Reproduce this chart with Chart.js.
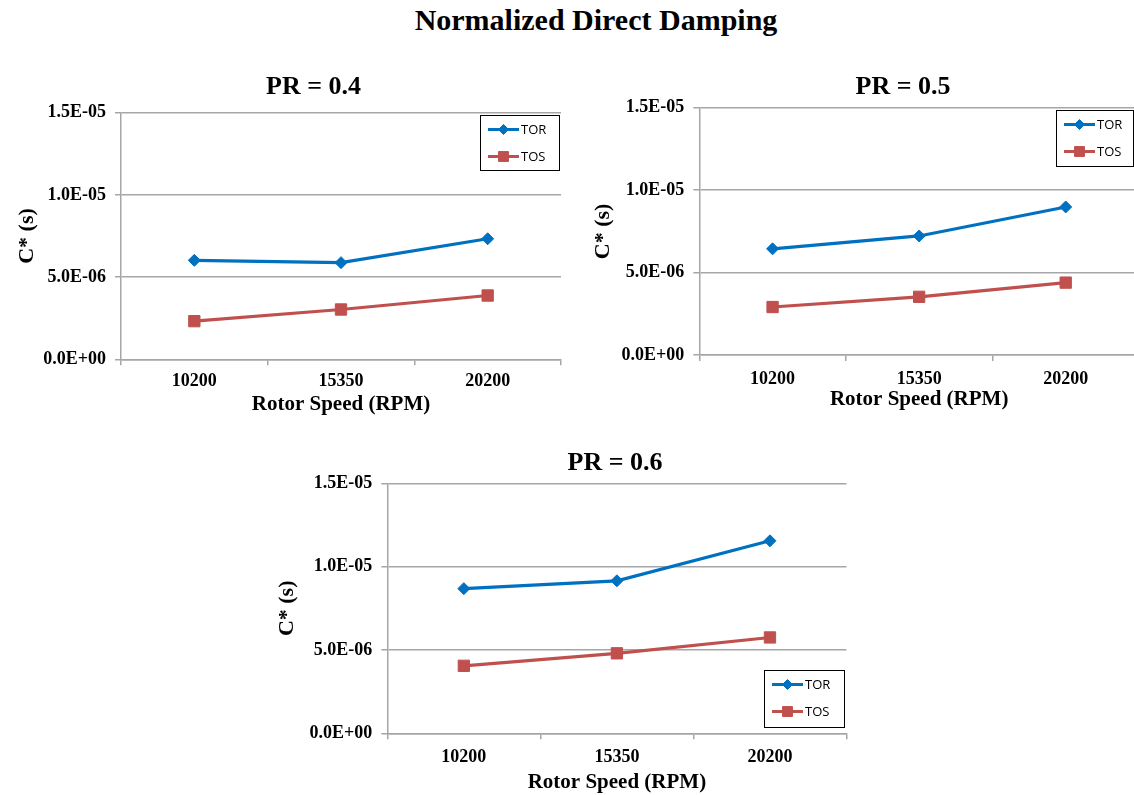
<!DOCTYPE html>
<html>
<head>
<meta charset="utf-8">
<script src="https://cdn.jsdelivr.net/npm/chart.js@4.4.1/dist/chart.umd.min.js"></script>
<style>
  html, body { margin: 0; padding: 0; background: #ffffff; overflow: hidden; width: 1134px; height: 795px; }
  #mainTitle { position: absolute; left: 0; top: 3px; width: 1192px; text-align: center;
    font-family: "Liberation Serif", "Times New Roman", serif; font-weight: bold; font-size: 30px; line-height: 34px; color: #000; }
  .wrap { position: absolute; }
</style>
</head>
<body>
<div id="mainTitle">Normalized Direct Damping</div>
<div class="wrap" id="w1"><canvas id="c1"></canvas></div>
<div class="wrap" id="w2"><canvas id="c2"></canvas></div>
<div class="wrap" id="w3"><canvas id="c3"></canvas></div>
<script>
// ---------------- DATA ----------------
const categories = ['10200', '15350', '20200'];
const yTickValues = [0, 5e-6, 1e-5, 1.5e-5];
const yTickLabels = ['0.0E+00', '5.0E-06', '1.0E-05', '1.5E-05'];
const seriesNames = ['TOR', 'TOS'];
const subTitles = ['PR = 0.4', 'PR = 0.5', 'PR = 0.6'];

const torPR04 = [6.02e-6, 5.88e-6, 7.33e-6];
const tosPR04 = [2.32e-6, 3.03e-6, 3.88e-6];
const torPR05 = [6.44e-6, 7.22e-6, 8.98e-6];
const tosPR05 = [2.91e-6, 3.53e-6, 4.39e-6];
const torPR06 = [8.68e-6, 9.15e-6, 11.55e-6];
const tosPR06 = [4.05e-6, 4.80e-6, 5.75e-6];

// ---------------- STYLE / LAYOUT ----------------
const BLUE = '#0070C0';
const RED = '#C0504D';
const GRID = '#a6a6a6';
const SERIF = '"Liberation Serif", "Times New Roman", serif';

const boxLegend = {
  id: 'boxLegend',
  afterLayout(chart, args, opts) {
    // place the chart title horizontally where the reference has it
    const t = chart.titleBlock;
    if (t && opts && typeof opts.titleCx === 'number') {
      const shift = opts.titleCx - (t.left + t.right) / 2;
      t.left += shift; t.right += shift;
    }
  },
  afterDraw(chart, args, opts) {
    if (!opts || !opts.box) return;
    const ctx = chart.ctx;
    const b = opts.box;
    ctx.save();
    ctx.fillStyle = '#ffffff';
    ctx.fillRect(b.x, b.y, b.w, b.h);
    ctx.strokeStyle = '#000000';
    ctx.lineWidth = 1;
    ctx.strokeRect(b.x + 0.5, b.y + 0.5, b.w, b.h);
    chart.data.datasets.forEach((ds, i) => {
      const cy = b.y + opts.rows[i];
      ctx.strokeStyle = ds.borderColor;
      ctx.lineWidth = 3;
      ctx.beginPath();
      ctx.moveTo(b.x + 8, cy);
      ctx.lineTo(b.x + 39, cy);
      ctx.stroke();
      ctx.fillStyle = ds.backgroundColor;
      ctx.strokeStyle = ds.borderColor;
      ctx.lineWidth = 1;
      Chart.helpers.drawPoint(ctx, { pointStyle: ds.pointStyle, radius: ds.pointRadius - 1, rotation: 0, borderWidth: 1 }, b.x + 23.5, cy);
      ctx.fillStyle = '#000000';
      ctx.font = '13px "Open Sans", "Liberation Sans", sans-serif';
      ctx.textBaseline = 'middle';
      ctx.textAlign = 'left';
      ctx.fillText(ds.label, b.x + 41, cy + 0.5);
    });
    ctx.restore();
  }
};

function makeChart(id, wrapId, tor, tos, title, g) {
  const wrap = document.getElementById(wrapId);
  wrap.style.left = g.canvas.left + 'px';
  wrap.style.top = g.canvas.top + 'px';
  wrap.style.width = g.canvas.width + 'px';
  wrap.style.height = g.canvas.height + 'px';

  const yAxisWidth = g.area.l - g.canvas.left;
  const xAxisHeight = g.canvas.top + g.canvas.height - g.area.b;
  const padRight = g.canvas.left + g.canvas.width - g.area.r;
  const titleLH = 26 * 1.2;
  const titlePadTop = g.titleY - g.canvas.top - titleLH / 2;
  const titlePadBottom = (g.area.t - g.canvas.top) - titleLH - titlePadTop;

  return new Chart(document.getElementById(id), {
    type: 'line',
    data: {
      labels: categories,
      datasets: [
        { label: seriesNames[0], data: tor, borderColor: BLUE, backgroundColor: BLUE, borderWidth: 3.2,
          pointStyle: 'rectRot', pointRadius: 6, pointHoverRadius: 6, pointBorderWidth: 1, tension: 0 },
        { label: seriesNames[1], data: tos, borderColor: RED, backgroundColor: RED, borderWidth: 3.2,
          pointStyle: 'rect', pointRadius: 8, pointHoverRadius: 8, pointBorderWidth: 1, tension: 0 }
      ]
    },
    options: {
      responsive: true,
      maintainAspectRatio: false,
      animation: false,
      devicePixelRatio: 1,
      layout: { padding: { left: 0, right: padRight, top: 0, bottom: 0 } },
      plugins: {
        legend: { display: false },
        tooltip: { enabled: false },
        title: {
          display: true, text: title, color: '#000',
          font: { family: SERIF, size: 26, weight: 'bold', lineHeight: 1.2 },
          padding: { top: titlePadTop, bottom: titlePadBottom }
        },
        boxLegend: { box: g.legend, rows: [14.5, 41.5], titleCx: g.titleX - g.canvas.left }
      },
      scales: {
        x: {
          type: 'category',
          offset: true,
          grid: { offset: true, drawOnChartArea: false, drawTicks: true, tickLength: 6, color: GRID, lineWidth: 1.5 },
          border: { display: true, color: GRID, width: 1.5 },
          ticks: { color: '#000', padding: g.xTickPad, font: { family: SERIF, size: 18, weight: 'bold', lineHeight: 1.2 }, maxRotation: 0 },
          title: { display: true, text: 'Rotor Speed (RPM)', color: '#000',
                   font: { family: SERIF, size: 21, weight: 'bold', lineHeight: 1.2 },
                   padding: { top: 0, bottom: g.xTitlePad } },
          afterFit: (s) => { s.height = xAxisHeight; }
        },
        y: {
          type: 'linear',
          min: 0, max: 1.5e-5,
          afterBuildTicks: (s) => { s.ticks = yTickValues.map(v => ({ value: v })); },
          grid: { color: GRID, lineWidth: 1.5, tickLength: 6, drawTicks: true },
          border: { display: true, color: GRID, width: 1.5 },
          ticks: { color: '#000', padding: 9,
                   font: { family: SERIF, size: 18, weight: 'bold' },
                   callback: (v) => { const i = yTickValues.findIndex(t => Math.abs(t - v) < 1e-9); return i >= 0 ? yTickLabels[i] : ''; } },
          title: { display: true, text: 'C* (s)', color: '#000',
                   font: { family: SERIF, size: 22, weight: 'bold', lineHeight: 1.2 },
                   padding: { top: g.yTitlePad, bottom: 0 } },
          afterFit: (s) => { s.width = yAxisWidth; }
        }
      }
    },
    plugins: [boxLegend]
  });
}

makeChart('c1', 'w1', torPR04, tosPR04, subTitles[0], {
  canvas: { left: 0, top: 60, width: 627, height: 360 },
  area: { l: 121, t: 112.7, r: 561, b: 359.3 },
  titleX: 313.5, titleY: 87, xTickPad: 5.5, xTitlePad: 2.4, yTitlePad: 13.8,
  legend: { x: 480, y: 55, w: 79, h: 55 }
});
makeChart('c2', 'w2', torPR05, tosPR05, subTitles[1], {
  canvas: { left: 580, top: 60, width: 646, height: 360 },
  area: { l: 699.3, t: 107.7, r: 1139, b: 355 },
  titleX: 903, titleY: 87, xTickPad: 8, xTitlePad: 7.4, yTitlePad: 10,
  legend: { x: 476, y: 50, w: 77, h: 56 }
});
makeChart('c3', 'w3', torPR06, tosPR06, subTitles[2], {
  canvas: { left: 250, top: 430, width: 730, height: 365 },
  area: { l: 387.3, t: 483.3, r: 846.5, b: 733.3 },
  titleX: 615, titleY: 463, xTickPad: 6.8, xTitlePad: 0, yTitlePad: 24,
  legend: { x: 514, y: 240, w: 80, h: 57 }
});
</script>
</body>
</html>
